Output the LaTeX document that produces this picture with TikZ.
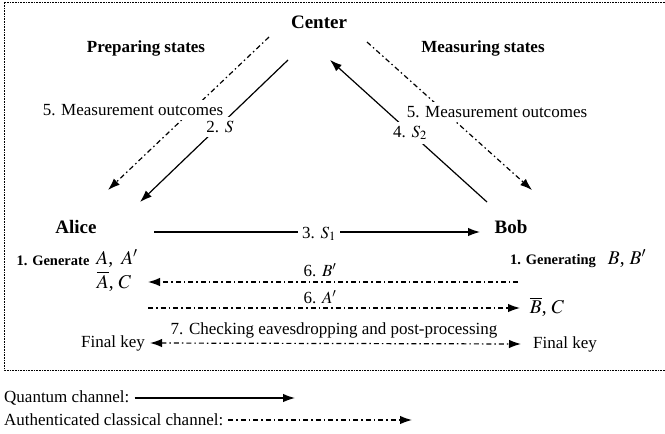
\documentclass[tikz,border=0pt]{standalone}
\usepackage{mathptmx}
\usepackage{fontspec}
\setmainfont{Liberation Serif}
\usetikzlibrary{arrows.meta}

\begin{document}
\begin{tikzpicture}[x=1pt,y=-1pt,
		every node/.style={font=\fontsize{17}{20}\selectfont, inner sep=1pt},
		party/.style={font=\fontsize{19}{22}\selectfont\bfseries},
		title/.style={font=\fontsize{17}{20}\selectfont\bfseries},
		note/.style={font=\fontsize{14.5}{17}\selectfont\bfseries},
		keys/.style={font=\fontsize{19.5}{22}\selectfont},
		quantum/.style={line width=1.2pt,-{Latex[length=12pt,width=8.5pt]}},
		classical/.style={line width=1.2pt,dash pattern=on 5pt off 3pt on 1.5pt off 3pt,-{Latex[length=12pt,width=8.5pt]}},
		cut/.style={fill=white, inner sep=4pt}]
				\useasboundingbox (0,0) rectangle (665,434);
				\draw[dash pattern=on 0.8pt off 0.8pt] (670,2) -- (4,2) -- (4,370) -- (670,370);
				
				\node[party] (center) at (319,22) {Center};
				\node[party] (alice) at (76,227) {Alice};
				\node[party] (bob) at (511,227) {Bob};
				\node[title] (prep) at (146,48) {Preparing states};
				\node[title] (meas) at (483,48) {Measuring states};
				
				\coordinate (p1) at (269,37);
				\coordinate (p2) at (108,190);
				\coordinate (s1) at (288,60);
				\coordinate (s2) at (140,202);
				\coordinate (r1) at (487,202);
				\coordinate (r2) at (330,60);
				\coordinate (m1) at (367,42);
				\coordinate (m2) at (532,190);
				\coordinate (a1) at (154,232);
				\coordinate (b1) at (480,232);
				
				\draw[classical] (p1) -- (p2);
				\draw[quantum] (s1) -- (s2);
				\draw[quantum] (r1) -- (r2);
				\draw[classical] (m1) -- (m2);
				\draw[quantum] (a1) -- (b1);
				
				\node[cut] (outl) at (133,110) {5. Measurement outcomes};
				\node[cut] (outr) at (497,112) {5. Measurement outcomes};
				\node[cut] (qs) at (220,127) {2. $S$};
				\node[cut] (qs2) at (410,133) {4. $S_2$};
				\node[cut] (qs1) at (319,234) {3. $S_1$};
				
				\node[note] (gena) at (53,261) {1. Generate};
				\node[keys] (keya) at (117,259) {$A$,\ \,$A'$};
				\node[keys] (keya2) at (114,281) {$\overline{A}$, $C$};
				\node[note] (genb) at (553,261) {1. Generating};
				\node[keys] (keyb) at (627,259) {$B$,\ $B'$};
				\node[keys] (keyb2) at (547,307) {$\overline{B}$, $C$};
				
				\coordinate (bl) at (148,282);
				\coordinate (br) at (518,282);
				\coordinate (al) at (148,308);
				\coordinate (ar) at (520,308);
				\draw[classical] (br) -- (bl);
				\draw[classical] (al) -- (ar);
				\node (sb) at (320,270) {6. $B'$};
				\node (sa) at (320,297) {6. $A'$};
				
				\node (finl) at (113,343) {Final key};
				\node (finr) at (565,344) {Final key};
				\draw[classical,{Latex[length=12pt,width=8.5pt]}-{Latex[length=12pt,width=8.5pt]}] (finl.east) ++(4,0) coordinate (fl) -- (finr.west -| 521,0) coordinate (fr);
				\node (chk) at (334,330) {7. Checking eavesdropping and post-processing};
				
				\node[anchor=west] (leg1) at (3,398) {Quantum channel:};
				\node[anchor=west] (leg2) at (3,420) {Authenticated classical channel:};
				\coordinate (q2) at (295,398);
				\coordinate (c2) at (412,420);
				\draw[quantum] (leg1.east) ++(4,0) -- (q2);
				\draw[classical] (leg2.east) ++(4,0) -- (c2);
			\end{tikzpicture}
\end{document}
